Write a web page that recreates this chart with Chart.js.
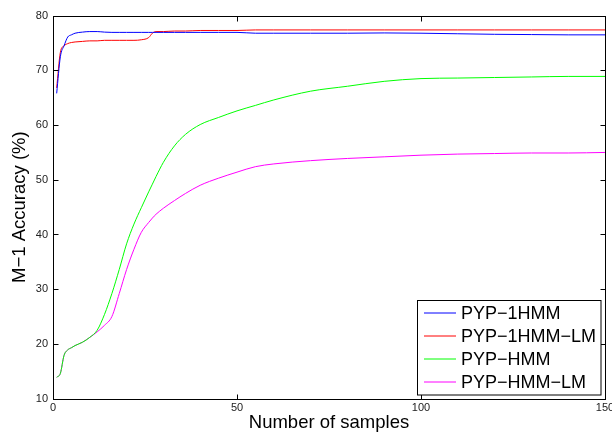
<!DOCTYPE html>
<html>
<head>
<meta charset="utf-8">
<script src="https://cdn.jsdelivr.net/npm/chart.js@4/dist/chart.umd.min.js"></script>
<style>
  html, body { margin: 0; padding: 0; background: #ffffff; }
  #wrap { width: 612px; height: 432px; position: relative; }
</style>
</head>
<body>
<div id="wrap"><canvas id="c" width="612" height="432"></canvas></div>
<script>
// ---- data ----
const samples = [1,2,3,4,5,6,8,10,12,14,16,18,20,22,24,26,27,28,30,33,36,40,45,50,55,60,70,80,90,100,110,120,130,140,150];

const pyp1hmm = [65.8,72.5,74.5,76.1,76.5,76.8,77.0,77.1,77.1,77.0,76.95,76.95,76.95,76.95,76.95,76.95,76.95,76.95,76.95,76.95,76.95,76.95,76.95,76.95,76.8,76.8,76.8,76.8,76.85,76.8,76.7,76.6,76.55,76.5,76.5];

const pyp1hmmLM = [66.8,73.3,74.5,74.9,75.1,75.2,75.3,75.4,75.4,75.5,75.5,75.5,75.5,75.5,75.6,76.0,76.8,77.1,77.1,77.2,77.2,77.3,77.3,77.3,77.4,77.4,77.4,77.4,77.4,77.4,77.4,77.4,77.4,77.4,77.4];

const pyphmm = [13.9,14.6,17.9,18.9,19.3,19.7,20.3,21.2,22.5,25.4,29.2,33.6,38.3,41.9,44.9,47.8,49.2,50.6,53.2,56.2,58.3,60.1,61.4,62.6,63.6,64.6,66.2,67.1,68.0,68.5,68.6,68.7,68.8,68.9,68.9];

const pyphmmLM = [13.9,14.6,17.9,18.9,19.3,19.7,20.3,21.2,22.2,23.4,25.0,29.2,33.6,37.3,40.4,42.2,43.0,43.7,44.8,46.2,47.5,49.0,50.3,51.4,52.4,52.9,53.5,53.9,54.2,54.5,54.7,54.8,54.9,54.9,55.0];

const seriesLabels = ["PYP\u22121HMM", "PYP\u22121HMM\u2212LM", "PYP\u2212HMM", "PYP\u2212HMM\u2212LM"];
const seriesColors = ["#0000ff", "#ff0000", "#00ff00", "#ff00ff"];
const xTicks = [0, 50, 100, 150];
const yTicks = [10, 20, 30, 40, 50, 60, 70, 80];

const seriesValues = [pyp1hmm, pyp1hmmLM, pyphmm, pyphmmLM];
const FONT = "'Liberation Sans', Arial, Helvetica, sans-serif";

// ---- plugins: MATLAB-style box, inside ticks, legend ----
const boxPlugin = {
  id: 'boxPlugin',
  afterDatasetsDraw(chart) {
    const {ctx, chartArea: a, scales} = chart;
    ctx.save();
    ctx.strokeStyle = '#000';
    ctx.lineWidth = 1;
    const L = Math.round(a.left) + 0.5, R = Math.round(a.right) + 0.5;
    const T = Math.round(a.top) + 0.5, B = Math.round(a.bottom) + 0.5;
    ctx.strokeRect(L, T, R - L, B - T);
    ctx.beginPath();
    const tl = 5;
    xTicks.forEach(v => {
      const x = Math.round(scales.x.getPixelForValue(v)) + 0.5;
      ctx.moveTo(x, B); ctx.lineTo(x, B - tl);
      ctx.moveTo(x, T); ctx.lineTo(x, T + tl);
    });
    yTicks.forEach(v => {
      const y = Math.round(scales.y.getPixelForValue(v)) + 0.5;
      ctx.moveTo(L, y); ctx.lineTo(L + tl, y);
      ctx.moveTo(R, y); ctx.lineTo(R - tl, y);
    });
    ctx.stroke();
    ctx.restore();
  },
  afterDraw(chart) {
    const {ctx} = chart;
    ctx.save();
    const bx = 417.5, by = 300.5, bw = 183.5, bh = 94.5;
    ctx.fillStyle = '#fff';
    ctx.fillRect(bx, by, bw, bh);
    ctx.strokeStyle = '#000';
    ctx.lineWidth = 1;
    ctx.strokeRect(bx, by, bw, bh);
    ctx.font = '18px ' + FONT;
    ctx.textBaseline = 'middle';
    ctx.textAlign = 'left';
    const rows = [313, 336, 359, 382];
    chart.data.datasets.forEach((ds, i) => {
      ctx.strokeStyle = ds.borderColor;
      ctx.lineWidth = 1;
      ctx.beginPath();
      ctx.moveTo(424, rows[i]); ctx.lineTo(456, rows[i]);
      ctx.stroke();
      ctx.fillStyle = '#000';
      ctx.fillText(ds.label, 461, rows[i] + 1.5);
    });
    ctx.restore();
  }
};

const datasets = seriesValues.map((vals, i) => ({
  label: seriesLabels[i],
  data: samples.map((s, j) => ({x: s, y: vals[j]})),
  borderColor: seriesColors[i],
  backgroundColor: seriesColors[i],
  borderWidth: 1,
  pointRadius: 0,
  cubicInterpolationMode: 'monotone',
  fill: false
}));

new Chart(document.getElementById('c'), {
  type: 'line',
  data: { datasets },
  plugins: [boxPlugin],
  options: {
    responsive: false,
    animation: false,
    devicePixelRatio: 1,
    layout: { padding: { top: 15.7, right: 7, left: 0, bottom: 0 } },
    plugins: { legend: { display: false }, tooltip: { enabled: false } },
    scales: {
      x: {
        type: 'linear',
        min: 0, max: 150,
        afterBuildTicks: s => { s.ticks = xTicks.map(v => ({value: v})); },
        afterFit: s => { s.height = 33.4; s.paddingLeft = 0; s.paddingRight = 0; },
        grid: { display: false, drawTicks: false, tickLength: 0 },
        border: { display: false },
        ticks: { color: '#222', padding: 3, maxRotation: 0, autoSkip: false,
                 font: { family: FONT, size: 11 } },
        title: { display: true, text: 'Number of samples', color: '#000',
                 padding: { top: 0, bottom: 0 },
                 font: { family: FONT, size: 18.5, lineHeight: 1 } }
      },
      y: {
        type: 'linear',
        min: 10, max: 80,
        afterBuildTicks: s => { s.ticks = yTicks.map(v => ({value: v})); },
        afterFit: s => { s.width = 53; s.paddingTop = 0; s.paddingBottom = 0; },
        grid: { display: false, drawTicks: false, tickLength: 0 },
        border: { display: false },
        ticks: { color: '#222', padding: 5, autoSkip: false,
                 font: { family: FONT, size: 11 } },
        title: { display: true, text: 'M\u22121 Accuracy (%)', color: '#000',
                 padding: { top: 11, bottom: 0 },
                 font: { family: FONT, size: 18.5, lineHeight: 1 } }
      }
    }
  }
});
</script>
</body>
</html>
